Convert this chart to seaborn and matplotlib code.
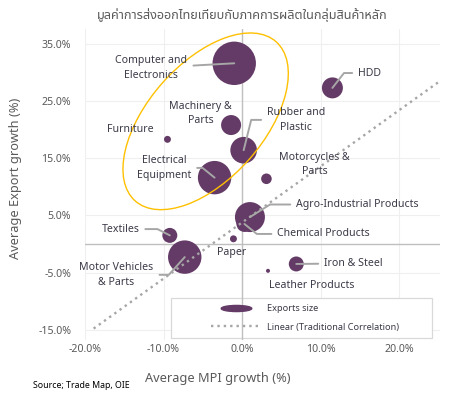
import matplotlib
matplotlib.use('Agg')
import matplotlib.pyplot as plt
import matplotlib.transforms as mtransforms
from matplotlib.patches import Ellipse, Rectangle
from matplotlib.lines import Line2D
from matplotlib.path import Path
import pandas as pd
import seaborn as sns

# ------------------------------------------------------------
# data
# ------------------------------------------------------------
products = ['Computer and\nElectronics', 'Machinery &\nParts', 'Furniture', 'Rubber and\nPlastic',
            'Electrical\nEquipment', 'Motorcycles &\nParts', 'Agro-Industrial Products',
            'Chemical Products', 'Paper', 'Iron & Steel', 'Leather Products', 'HDD',
            'Textiles', 'Motor Vehicles\n& Parts']
mpi_growth = [-1.0, -1.4, -9.5, 0.2, -3.5, 3.1, 1.0, 0.3, -1.1, 6.9, 3.3, 11.5, -9.2, -7.3]
export_growth = [31.6, 20.8, 18.3, 16.4, 11.6, 11.4, 4.7, 3.5, 0.9, -3.5, -4.7, 27.3, 1.5, -2.3]
export_size = [471, 100, 12, 177, 279, 28, 225, 64, 12, 56, 4, 110, 56, 279]

trend_x = [-18.9, 25.3]   # linear (traditional correlation)
trend_y = [-14.8, 28.6]

x_ticks = [-20, -10, 0, 10, 20]
y_ticks = [-15, -5, 5, 15, 25, 35]

df = pd.DataFrame({'product': products, 'mpi': mpi_growth,
                   'export': export_growth, 'size': export_size})

# label layout: text position (data coords) + leader style
label_pos = {
    'Computer and\nElectronics': (-11.55, 30.8, 'arc3'),
    'Machinery &\nParts': (-5.3, 22.8, None),
    'Furniture': (-14.2, 20.05, None),
    'Rubber and\nPlastic': (6.9, 21.7, 'angle,angleA=0,angleB=76,rad=0'),
    'Electrical\nEquipment': (-9.95, 13.3, 'angle,angleA=0,angleB=-39,rad=0'),
    'Motorcycles &\nParts': (9.2, 13.9, None),
    'Agro-Industrial Products': (14.7, 6.9, 'angle,angleA=0,angleB=32,rad=0'),
    'Chemical Products': (10.4, 1.75, 'angle,angleA=0,angleB=-39,rad=0'),
    'Paper': (-1.3, -1.45, None),
    'Iron & Steel': (14.2, -3.4, 'arc3'),
    'Leather Products': (8.9, -7.3, None),
    'HDD': (16.25, 29.9, 'angle,angleA=0,angleB=52,rad=0'),
    'Textiles': (-15.5, 2.6, 'angle,angleA=0,angleB=-27,rad=0'),
    'Motor Vehicles\n& Parts': (-16.0, -5.4, 'angle,angleA=0,angleB=48,rad=0'),
}

purple = '#643b67'
text_col = '#3a3a48'
grey = '#595959'

sns.set_theme(style='white')
plt.rcParams['font.family'] = ['Noto Sans', 'Noto Sans Thai', 'Athiti', 'DejaVu Sans']

fig = plt.figure(figsize=(4.49, 3.98), dpi=100)
ax = fig.add_axes([85 / 449, 1 - 340 / 398, 355 / 449, 311 / 398])

# bubbles
sns.scatterplot(data=df, x='mpi', y='export', size='size', sizes=(0, 977), size_norm=(0, 471),
                color=purple, linewidth=0, legend=False, ax=ax, zorder=3)

# trend line
ax.plot(trend_x, trend_y, color='#a6a6a6', lw=1.7, ls=(0, (1, 1.7)), zorder=4)

# orange ellipse around the main cluster (drawn in pixel units)
ell_tr = mtransforms.IdentityTransform() + mtransforms.ScaledTranslation(-4.64, 21.45, ax.transData)
ax.add_patch(Ellipse((0, 0), 212.6, 115.6, angle=48.5, fill=False, ec='#ffc000', lw=1.0,
                     transform=ell_tr, zorder=5))

# labels + leader lines
for name, x, y in zip(products, mpi_growth, export_growth):
    tx, ty, style = label_pos[name]
    arrow = None
    if style:
        arrow = dict(arrowstyle='-', color='#a6a6a6', lw=1.4, shrinkA=2, shrinkB=0,
                     connectionstyle=style)
    ax.annotate(name, xy=(x, y), xytext=(tx, ty), ha='center', va='center',
                fontsize=7.6, color=text_col, linespacing=1.45, arrowprops=arrow, zorder=6)

# axes
ax.set_xlim(-20, 25.2)
ax.set_ylim(-16.8, 37.6)
ax.set_xticks(x_ticks)
ax.set_yticks(y_ticks)
ax.set_xticklabels([f'{v:.1f}%' for v in x_ticks])
ax.set_yticklabels([f'{v:.1f}%' for v in y_ticks])
ax.tick_params(axis='both', labelsize=7.6, colors=grey, length=0)
ax.tick_params(axis='x', pad=3)
ax.tick_params(axis='y', pad=10)
ax.grid(True, color='#efefef', lw=0.8, zorder=0)
ax.axhline(0, color='#bfbfbf', lw=1, zorder=1)
ax.axvline(0, color='#bfbfbf', lw=1, zorder=1)
for s in ax.spines.values():
    s.set_visible(False)

ax.set_xlabel('Average MPI growth (%)', fontsize=9.2, color=grey)
ax.set_ylabel('Average Export growth (%)', fontsize=9.2, color=grey)
ax.xaxis.set_label_coords(0.373, -0.103)
ax.yaxis.set_label_coords(-0.177, 0.52)

# legend (frame drawn separately so the entries sit inset like the original)
ax.add_patch(Rectangle((0.2414, 0.0064), 0.735, 0.1286, transform=ax.transAxes,
                       facecolor='white', edgecolor='#d9d9d9', lw=0.9, zorder=0.8))
circ = Path.unit_circle()
flat = Path(circ.vertices * [1, 0.2], circ.codes)
handles = [Line2D([], [], ls='none', marker=flat, markersize=22, color=purple),
           Line2D([], [], color='#a6a6a6', lw=1.7, ls=(0, (1, 1.7)))]
leg = ax.legend(handles, ['Exports size', 'Linear (Traditional Correlation)'],
                loc='center left', bbox_to_anchor=(0.341, 0.0707), borderpad=0,
                fontsize=6.6, handlelength=5.5, handletextpad=0.65, labelspacing=1.0,
                frameon=False, labelcolor=text_col)
leg.set_zorder(8)

fig.text(0.54, 0.962, 'มูลค่าการส่งออกไทยเทียบกับภาคการผลิตในกลุ่มสินค้าหลัก',
         ha='center', va='center', fontsize=9.1, color=grey)
fig.text(33 / 449, 1 - 386 / 398, 'Source; Trade Map, OIE', ha='left', va='center',
         fontsize=6.3, color='black')

fig.savefig('out.png', dpi=100)
